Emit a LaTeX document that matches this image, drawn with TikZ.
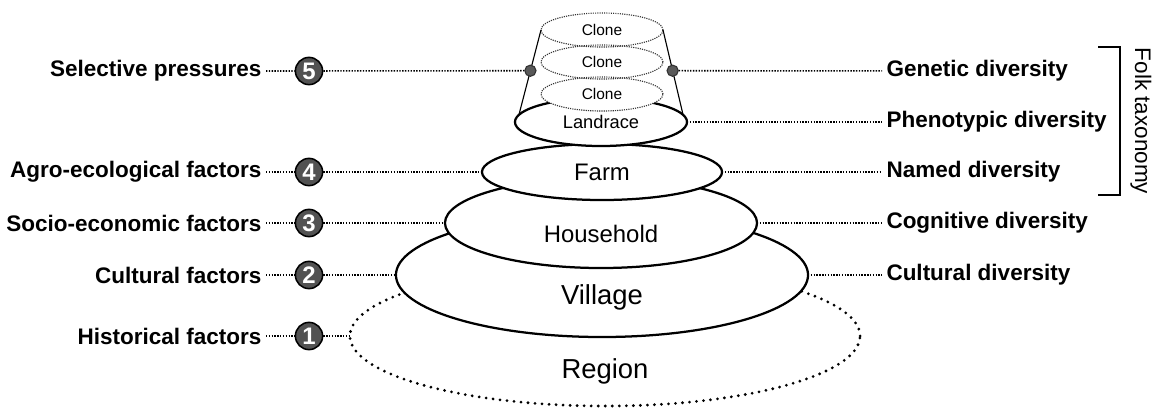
\documentclass[tikz,border=0pt]{standalone}
\usepackage{fontspec}
\setmainfont{Liberation Sans}
\usetikzlibrary{shapes.geometric}

\tikzset{
  lvl/.style={ellipse, draw, fill=white, line width=1.6pt, inner sep=0pt, outer sep=0pt},
  clone/.style={ellipse, draw=black!80, line width=0.8pt, dash pattern=on 0.8pt off 0.8pt,
    inner sep=0pt, outer sep=0pt, minimum width=3.05cm, minimum height=0.85cm,
    font=\fontsize{11}{13}\selectfont},
  num/.style={circle, draw, line width=1.1pt, fill=black!68, text=white,
    font=\fontsize{17}{17}\selectfont\bfseries, minimum size=0.68cm, inner sep=0pt},
  lbl/.style={font=\fontsize{16}{19}\selectfont\bfseries, inner sep=3pt},
  conn/.style={line width=1.1pt, dash pattern=on 1pt off 1pt},
  gdot/.style={circle, draw=black!80, fill=black!65, minimum size=0.28cm, inner sep=0pt},
}

\begin{document}
\begin{tikzpicture}[x=0.025cm, y=-0.025cm]
   \useasboundingbox (0,0) rectangle (1153,408);

   % Nested levels, from the widest up
   \node[lvl, line width=2.2pt, dash pattern=on 0pt off 5pt, line cap=round,
         minimum width=12.75cm, minimum height=3.5cm] (region) at (605,336) {};
   \node[font=\fontsize{19.5}{22}\selectfont] (regiont) at (605,371) {Region};
   \node[lvl, minimum width=10.3cm, minimum height=3.1cm] (village) at (602,275) {};
   \node[font=\fontsize{19.5}{22}\selectfont] (villaget) at (602,297) {Village};
   \node[lvl, minimum width=7.8cm, minimum height=2.25cm] (hh) at (601,223) {};
   \node[font=\fontsize{17}{20}\selectfont] (hht) at (601,234) {Household};
   \node[lvl, minimum width=6cm, minimum height=1.4cm,
         font=\fontsize{17}{20}\selectfont] (farm) at (602,172) {Farm};
   \node[lvl, minimum width=4.3cm, minimum height=1.2cm,
         font=\fontsize{13}{15}\selectfont] (lr) at (601,122) {Landrace};

   % Clones on top of the landrace
   \node[clone, fill=white] (c3) at (602,94) {Clone};
   \node[clone] (c2) at (602,62) {Clone};
   \node[clone] (c1) at (602,30) {Clone};
   \draw[line width=0.8pt] (c1.west) -- node[gdot, pos=0.48] (dotl) {} (lr.175);
   \draw[line width=0.8pt] (c1.east) -- node[gdot, pos=0.48] (dotr) {} (lr.5);

   % Factors on the left
   \foreach \n/\y/\txt/\tgt in {5/71/{Selective pressures}/dotl,
                               4/172/{Agro-ecological factors}/farm,
                               3/223/{Socio-economic factors}/hh,
                               2/275/{Cultural factors}/village,
                               1/336/{Historical factors}/region} {
       \node[lbl, anchor=east] (f\n) at (266,\y) {\txt};
       \node[num] (n\n) at (309,\y) {\n};
       \draw[conn] (f\n) -- (n\n) -- (\tgt);
   }

   % Diversity on the right
   \foreach \i/\src/\y/\txt in {1/dotr/71/{Genetic diversity},
                               2/lr/122/{Phenotypic diversity},
                               3/farm/172/{Named diversity},
                               4/hh/223/{Cognitive diversity},
                               5/village/275/{Cultural diversity}} {
       \node[lbl, anchor=west] (d\i) at (882,\y) {\txt};
       \draw[conn] (\src) -- (d\i);
   }

   % Bracket
   \coordinate (bt) at (1098,47);
   \coordinate (bb) at (1098,195);
   \draw[line width=0.8pt] (bt) -- ++(22,0) |- (bb);
   \node[rotate=-90, font=\fontsize{16}{19}\selectfont] (folk) at (1141,121) {Folk taxonomy};
\end{tikzpicture}
\end{document}
